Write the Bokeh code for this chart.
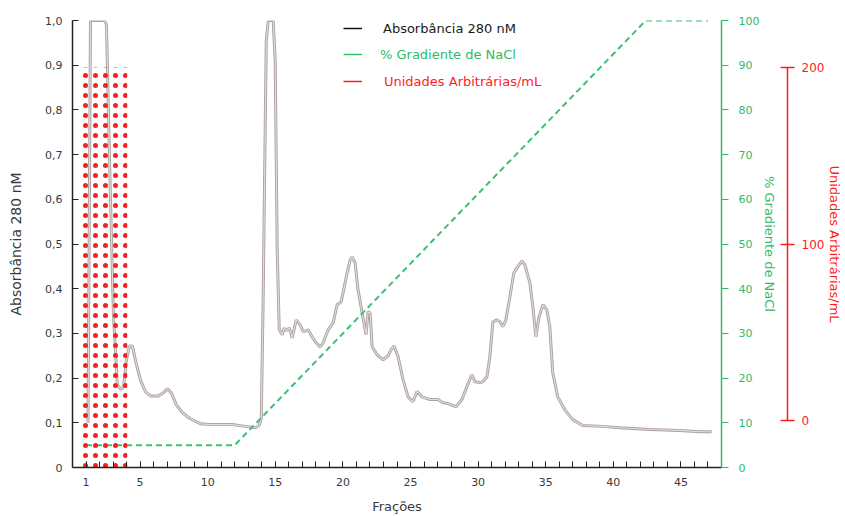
from bokeh.plotting import figure
from bokeh.models import (Range1d, LinearAxis, FixedTicker, CustomJSTickFormatter,
                          Legend, LegendItem)
from bokeh.embed import file_html
from bokeh.resources import INLINE

# ---------------- data ----------------
# Absorbance at 280 nm along the fractions
abs_frac = [1.15, 1.33, 1.48, 2.36, 2.51, 2.81, 3.03, 3.32, 3.55, 3.77,
            3.99, 4.21, 4.43, 4.65, 5.02, 5.39, 5.76, 6.35, 6.72, 7.02,
            7.31, 7.68, 8.12, 8.71, 9.45, 10.19, 11.08, 11.82, 12.78, 13.52,
            13.81, 13.96, 14.1, 14.33, 14.48, 14.84, 14.99, 15.14, 15.29, 15.51,
            15.66, 15.8, 16.03, 16.25, 16.54, 16.84, 17.06, 17.43, 17.73, 18.02,
            18.32, 18.54, 18.91, 19.28, 19.57, 19.87, 20.31, 20.53, 20.68, 20.9,
            21.12, 21.42, 21.71, 21.86, 22.01, 22.16, 22.53, 22.97, 23.34, 23.56,
            23.78, 24.08, 24.45, 24.82, 25.18, 25.48, 25.85, 26.44, 27.03, 27.4,
            27.77, 28.36, 28.8, 29.17, 29.54, 29.76, 30.13, 30.35, 30.65, 30.87,
            31.09, 31.39, 31.61, 31.83, 32.05, 32.35, 32.64, 32.87, 33.23, 33.46,
            33.83, 34.05, 34.27, 34.49, 34.79, 35.08, 35.3, 35.52, 35.89, 36.41,
            37.0, 37.74, 39.22, 40.47, 42.69, 44.9, 46.38, 47.27]
abs_val = [0.10, 1.0, 1.0, 1.0, 0.99, 0.60, 0.34, 0.185, 0.176, 0.179,
           0.24, 0.272, 0.272, 0.24, 0.196, 0.17, 0.16, 0.16, 0.167, 0.176,
           0.167, 0.14, 0.123, 0.109, 0.098, 0.096, 0.096, 0.096, 0.092, 0.089,
           0.094, 0.11, 0.375, 0.955, 1.0, 1.0, 0.91, 0.487, 0.308, 0.297,
           0.312, 0.306, 0.312, 0.29, 0.33, 0.319, 0.304, 0.308, 0.292, 0.279,
           0.27, 0.279, 0.308, 0.324, 0.364, 0.37, 0.435, 0.464, 0.471, 0.458,
           0.397, 0.346, 0.297, 0.348, 0.346, 0.27, 0.252, 0.241, 0.25, 0.263,
           0.272, 0.248, 0.196, 0.158, 0.147, 0.17, 0.158, 0.152, 0.152, 0.145,
           0.143, 0.136, 0.152, 0.181, 0.208, 0.192, 0.19, 0.192, 0.203, 0.248,
           0.326, 0.33, 0.326, 0.315, 0.33, 0.382, 0.435, 0.446, 0.462, 0.453,
           0.413, 0.359, 0.292, 0.335, 0.364, 0.353, 0.315, 0.212, 0.158, 0.129,
           0.107, 0.094, 0.092, 0.089, 0.085, 0.083, 0.08, 0.08]

# NaCl gradient (%)
grad_frac = [1, 12, 42.4, 47]
grad_pct = [5, 5, 100, 100]

# Arbitrary units / mL (activity block)
units_from = [0.75]
units_to = [4.05]
units_val = [200]

x_tick_labels = [1, 5, 10, 15, 20, 25, 30, 35, 40, 45]
x_minor = list(range(1, 48))
abs_ticks = [0, 0.1, 0.2, 0.3, 0.4, 0.5, 0.6, 0.7, 0.8, 0.9, 1.0]
grad_ticks = [0, 10, 20, 30, 40, 50, 60, 70, 80, 90, 100]
units_ticks = [0, 100, 200]

# ---------------- styles ----------------
FONT = "DejaVu Sans"
TXT = "#3a3a3a"
GREEN = "#33b86a"
RED = "#ff1c1c"
NAN = float("nan")

p = figure(width=845, height=516, x_range=Range1d(0, 48), y_range=Range1d(0, 1),
           output_backend="svg", toolbar_location=None,
           min_border_left=72, min_border_right=123, min_border_top=20, min_border_bottom=48)
p.outline_line_color = None
p.xgrid.visible = False
p.ygrid.visible = False
p.background_fill_color = "white"

p.extra_y_ranges = {"green": Range1d(0, 100), "red": Range1d(-26.6, 226.6)}

# absorbance curve (light line with darker rim)
p.line(abs_frac, abs_val, line_color="#ada2a2", line_width=3.0)
p.line(abs_frac, abs_val, line_color="#e2dcdc", line_width=1.1)

# gradient
p.line(grad_frac, grad_pct, y_range_name="green", line_color="#3cc074",
       line_width=2, line_dash="6 4")

# activity block (dotted fill)
p.quad(left=units_from, right=units_to, top=units_val,
       bottom=p.extra_y_ranges["red"].start, y_range_name="red",
       fill_alpha=0, line_alpha=0, hatch_pattern="dot", hatch_color=RED,
       hatch_scale=10, hatch_weight=1.8)

# ---------------- axes ----------------
xa = p.xaxis[0]
xa.ticker = FixedTicker(ticks=x_tick_labels, minor_ticks=x_minor)
xa.axis_label = "Frações"
xa.major_tick_in = 6
xa.major_tick_out = 0
xa.minor_tick_in = 6
xa.minor_tick_out = 0
xa.major_label_standoff = 10
xa.axis_label_standoff = 10
xa.axis_line_width = 1.5
xa.axis_line_color = "#222222"
xa.major_tick_line_color = "#222222"
xa.minor_tick_line_color = "#222222"

ya = p.yaxis[0]
ya.ticker = FixedTicker(ticks=abs_ticks)
ya.formatter = CustomJSTickFormatter(
    code="return tick == 0 ? '0' : tick.toFixed(1).replace('.', ',');")
ya.axis_label = "Absorbância 280 nM"
ya.major_tick_in = 6
ya.major_tick_out = 0
ya.minor_tick_in = 0
ya.minor_tick_out = 0
ya.major_label_standoff = 10
ya.axis_label_standoff = 18
ya.axis_line_width = 1.5
ya.axis_line_color = "#222222"
ya.major_tick_line_color = "#222222"

for ax in (xa, ya):
    ax.major_label_text_font = FONT
    ax.major_label_text_font_size = "11px"
    ax.major_label_text_color = TXT
    ax.axis_label_text_font = FONT
    ax.axis_label_text_font_size = "13px"
    ax.axis_label_text_font_style = "normal"
    ax.axis_label_text_color = TXT
ya.axis_label_text_font_size = "14px"

ga = LinearAxis(y_range_name="green", ticker=FixedTicker(ticks=grad_ticks),
                axis_label="% Gradiente de NaCl")
ga.axis_line_color = GREEN
ga.axis_line_width = 1.5
ga.major_tick_line_color = GREEN
ga.major_tick_in = 0
ga.major_tick_out = 7
ga.minor_tick_in = 0
ga.minor_tick_out = 0
ga.major_label_standoff = 10
ga.major_label_text_color = GREEN
ga.major_label_text_font = FONT
ga.major_label_text_font_size = "11px"
ga.axis_label_text_color = GREEN
ga.axis_label_text_font = FONT
ga.axis_label_text_font_size = "13px"
ga.axis_label_text_font_style = "normal"
ga.axis_label_standoff = 0
p.add_layout(ga, "right")

# spacer between the two right-hand axes (one invisible tick gives it width)
sp = LinearAxis(y_range_name="green", ticker=FixedTicker(ticks=[50]),
                major_label_overrides={50: ""},
                axis_line_color=None, major_tick_out=7, major_tick_in=0,
                minor_tick_out=0, minor_tick_in=0, major_label_standoff=0,
                major_tick_line_color=None, minor_tick_line_color=None)
p.add_layout(sp, "right")

ra = LinearAxis(y_range_name="red", ticker=FixedTicker(ticks=units_ticks),
                axis_label="Unidades Arbitrárias/mL", bounds=(0, 200))
ra.axis_line_color = RED
ra.axis_line_width = 1.5
ra.major_tick_line_color = RED
ra.major_tick_line_width = 1.5
ra.major_tick_in = 7
ra.major_tick_out = 7
ra.minor_tick_in = 0
ra.minor_tick_out = 0
ra.major_label_standoff = 7
ra.major_label_text_color = RED
ra.major_label_text_font = FONT
ra.major_label_text_font_size = "12px"
ra.axis_label_text_color = RED
ra.axis_label_text_font = FONT
ra.axis_label_text_font_size = "13px"
ra.axis_label_text_font_style = "normal"
ra.axis_label_standoff = 0
p.add_layout(ra, "right")

# ---------------- legend ----------------
proxy_black = p.line([NAN], [NAN], line_color="#111111", line_width=1.5)
proxy_green = p.line([NAN], [NAN], line_color="#2fc46a", line_width=1.5)
proxy_red = p.line([NAN], [NAN], line_color=RED, line_width=1.5)

legend_specs = [
    ("Absorbância 280 nM", proxy_black, "#1a1a1a", (271, 431), 21),
    ("% Gradiente de NaCl", proxy_green, "#2fb96a", (271, 405), 18),
    ("Unidades Arbitrárias/mL", proxy_red, RED, (271, 378), 22),
]
for label, rend, col, loc, standoff in legend_specs:
    lg = Legend(items=[LegendItem(label=label, renderers=[rend])], location=loc,
                padding=0, margin=0, spacing=0, glyph_width=19, glyph_height=16,
                label_height=16, label_standoff=standoff,
                label_text_font=FONT, label_text_font_size="13px",
                label_text_color=col, background_fill_alpha=0,
                border_line_color=None)
    p.add_layout(lg, "center")

open("out.html", "w").write(file_html(p, INLINE))
